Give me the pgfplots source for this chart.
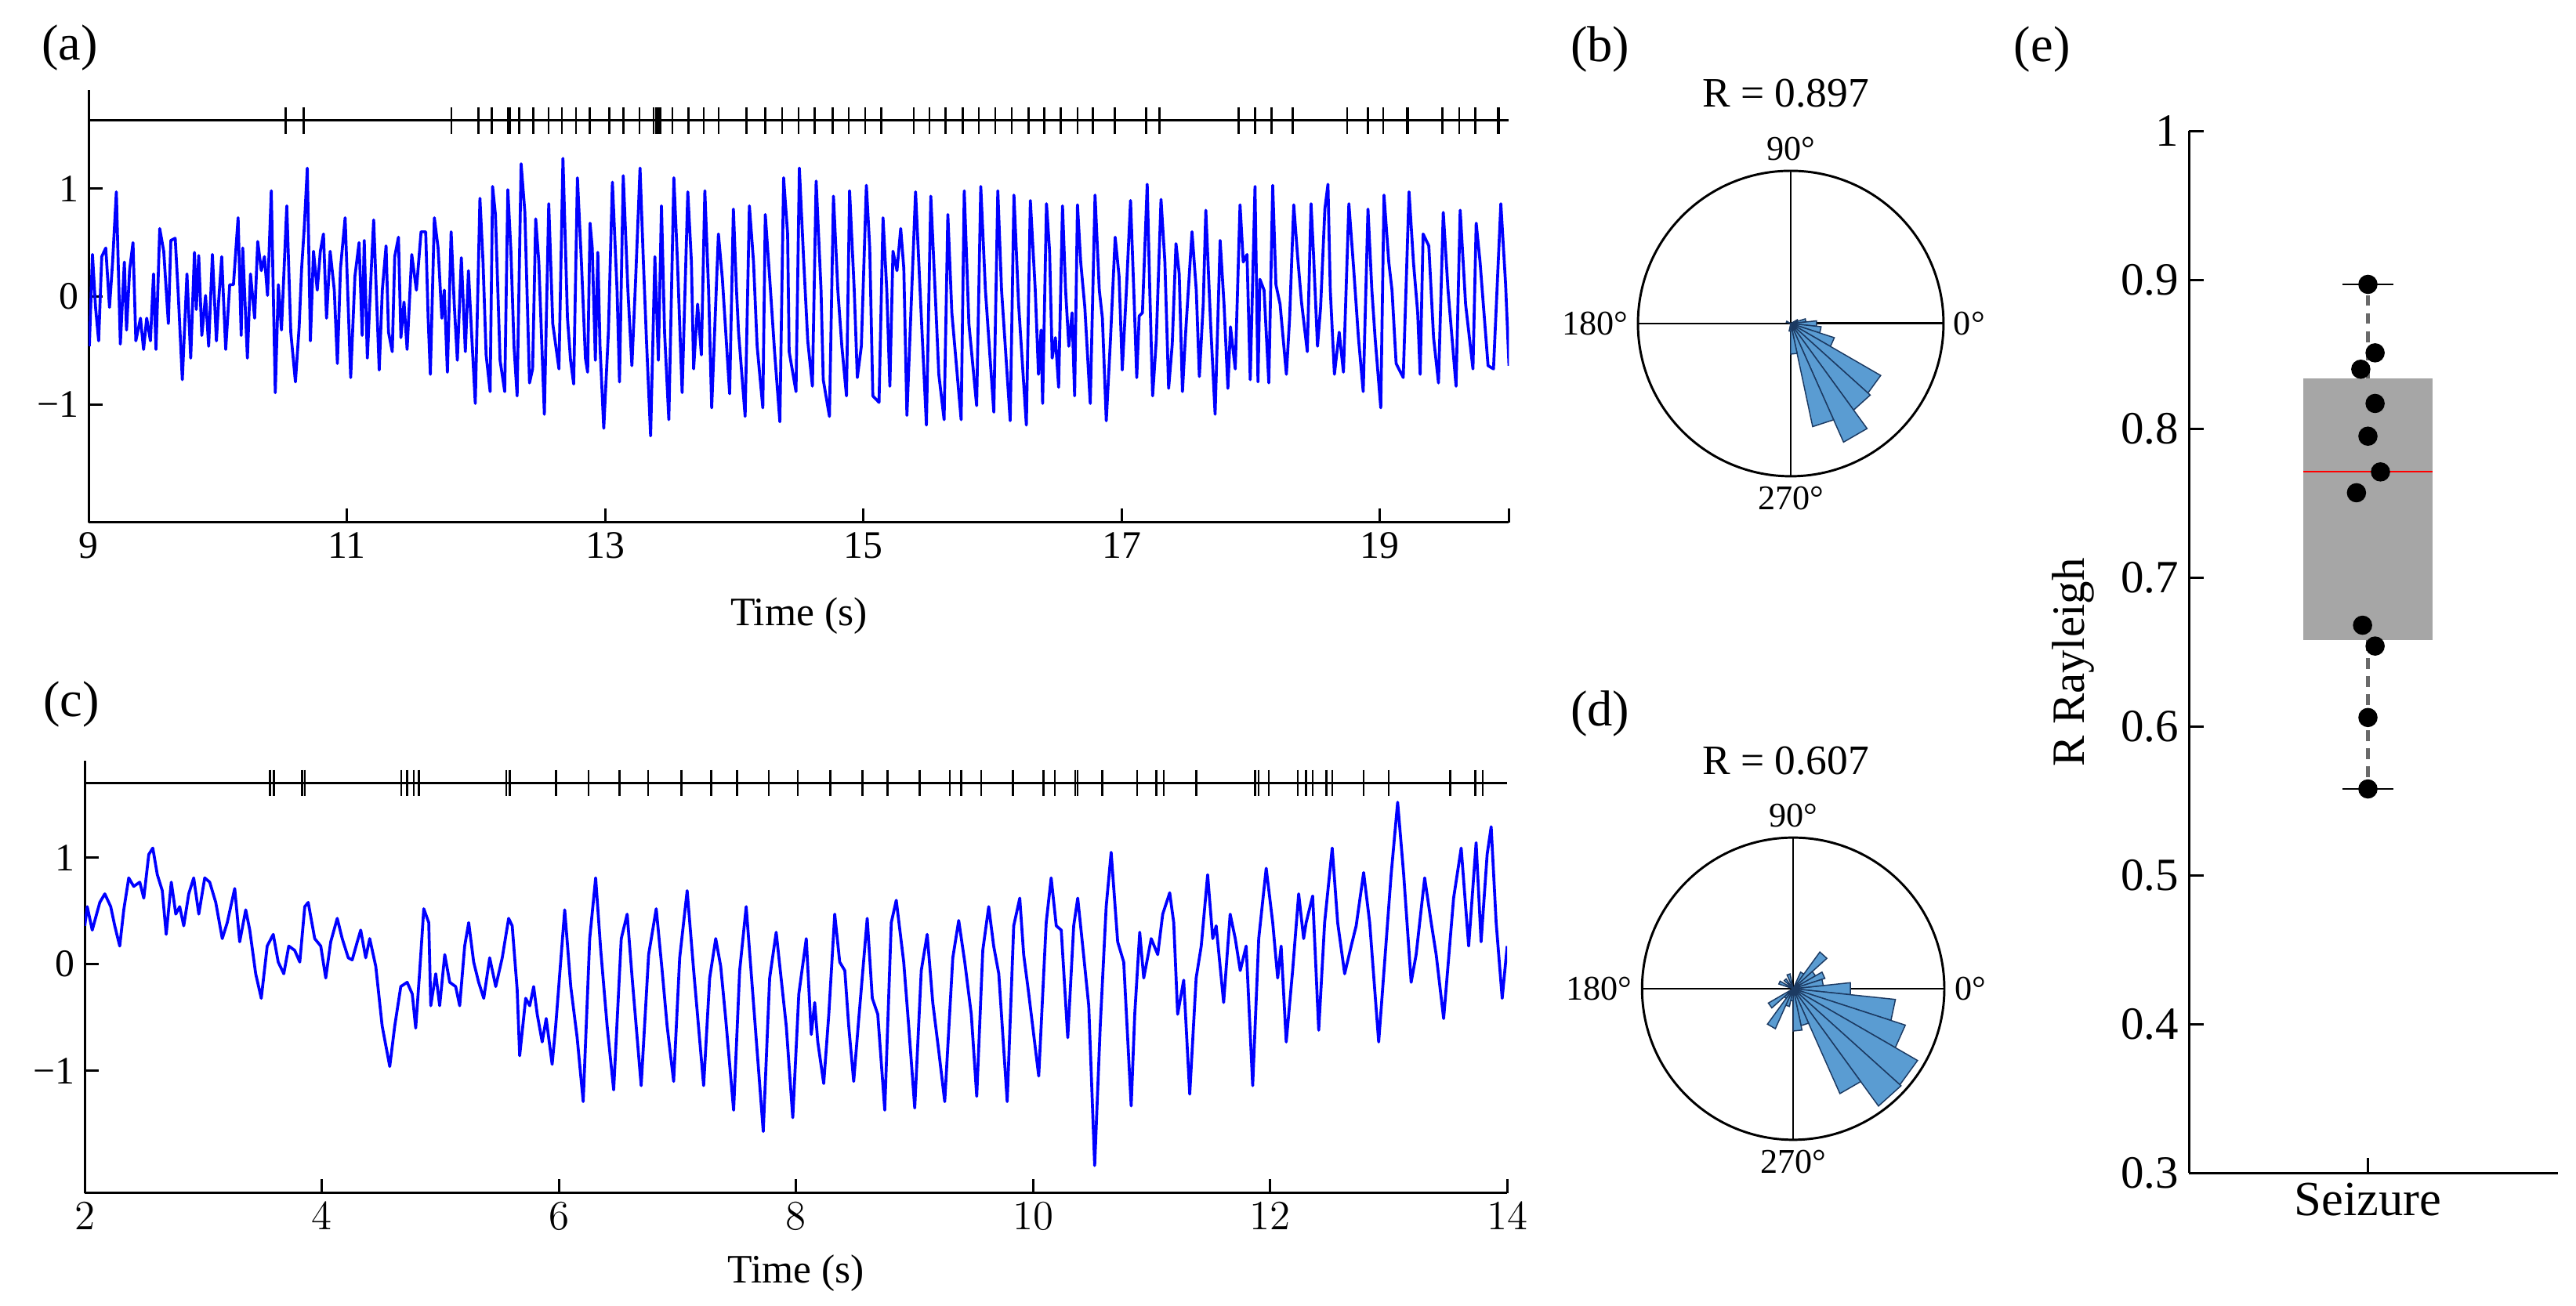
\documentclass[border=0pt]{standalone}
\usepackage{fontspec}
\setmainfont{Liberation Serif}
\usepackage{pgfplots}
\pgfplotsset{compat=1.18}
\usepgfplotslibrary{polar,statistics}

\definecolor{petalfill}{RGB}{90,156,210}
\definecolor{petaledge}{RGB}{28,58,98}
\definecolor{boxgray}{RGB}{166,166,166}
\definecolor{whiskgray}{RGB}{105,105,105}

\pgfplotsset{
  trace/.style={
    scale only axis, height=52.6mm,
    axis x line*=bottom, axis y line*=left,
    axis line style={line width=0.9pt},
    tick style={black, line width=0.8pt},
    major tick length=1.7mm,
    ytick={-1,0,1}, yticklabels={−1,0,1},
    tick label style={font=\fontsize{13.5}{16}\selectfont},
    xlabel={Time (s)},
    label style={font=\fontsize{14}{16}\selectfont},
  },
  rose/.style={
    scale only axis, anchor=center,
    ymin=0, ymax=1, ytick=\empty,
    xtick={0,90,180,270}, xticklabels={0°,90°,180°,270°},
    xmajorgrids, ymajorgrids=false, xminorgrids=false, yminorgrids=false,
    major grid style={black, line width=0.7pt},
    axis line style={line width=0.8pt},
    major tick length=0pt,
    tick label style={font=\fontsize{12}{14}\selectfont},
  },
  spikes/.style={only marks, mark=|, mark size=1.6mm, mark options={black, line width=0.7pt}},
  sig/.style={blue, line width=1pt, line join=round},
}
\newcommand\petal[3]{\addplot[fill=petalfill, draw=petaledge, line width=0.4pt] coordinates {(0,0) (#1,#3) (#2,#3) (0,0)};}

\begin{document}
\begin{tikzpicture}
\useasboundingbox (0,0) rectangle (313.6mm,159mm);

% (a) seizure trace
\begin{axis}[trace, at={(10.8mm,95.4mm)}, anchor=south west, width=172.9mm,
  xmin=9, xmax=20, ymin=-2.09, ymax=1.91,
  xtick={9,11,13,15,17,19,20}, xticklabels={9,11,13,15,17,19,{}},
  xlabel style={at={(axis description cs:0.5,0)}, anchor=center, yshift=-11.4mm}]
\addplot[sig] coordinates {
(9.005,-0.46) (9.029,0.39) (9.053,-0.10) (9.077,-0.41) (9.101,0.37) (9.132,0.45) (9.161,-0.10) (9.185,0.32) (9.214,0.97) (9.245,-0.44) (9.276,0.32) (9.293,-0.31) (9.317,0.25) (9.343,0.50) (9.365,-0.41) (9.401,-0.20) (9.425,-0.49) (9.449,-0.20) (9.478,-0.41) (9.502,0.21) (9.521,-0.49) (9.550,0.63) (9.581,0.42) (9.617,-0.25) (9.636,0.52) (9.670,0.54) (9.694,0.01) (9.725,-0.77) (9.761,0.21) (9.790,-0.57) (9.819,0.41) (9.833,-0.12) (9.852,0.38) (9.876,-0.36) (9.905,0.01) (9.929,-0.46) (9.958,0.39) (9.989,-0.41) (10.006,-0.05) (10.030,0.37) (10.061,-0.49) (10.092,0.11) (10.121,0.11) (10.157,0.73) (10.181,-0.36) (10.193,0.45) (10.229,-0.57) (10.253,0.21) (10.285,-0.20) (10.309,0.51) (10.337,0.24) (10.361,0.37) (10.385,0.01) (10.414,0.98) (10.445,-0.89) (10.469,0.11) (10.493,-0.31) (10.534,0.84) (10.565,-0.33) (10.601,-0.79) (10.630,-0.28) (10.649,0.26) (10.669,0.63) (10.693,1.19) (10.717,-0.41) (10.741,0.42) (10.770,0.06) (10.794,0.42) (10.818,0.58) (10.842,-0.20) (10.870,0.42) (10.902,0.06) (10.926,-0.62) (10.950,0.26) (10.986,0.73) (11.029,-0.75) (11.062,0.19) (11.094,0.50) (11.118,-0.36) (11.134,0.52) (11.158,-0.57) (11.190,0.29) (11.207,0.71) (11.250,-0.68) (11.274,0.06) (11.303,0.47) (11.322,-0.33) (11.351,-0.51) (11.370,0.37) (11.399,0.55) (11.418,-0.38) (11.442,-0.05) (11.466,-0.49) (11.502,0.39) (11.538,0.06) (11.574,0.60) (11.610,0.60) (11.629,-0.20) (11.646,-0.72) (11.677,0.73) (11.706,0.45) (11.735,-0.20) (11.754,0.06) (11.778,-0.70) (11.807,0.60) (11.831,-0.07) (11.855,-0.59) (11.886,0.36) (11.917,-0.51) (11.941,0.24) (11.965,-0.33) (11.994,-0.99) (12.030,0.91) (12.054,0.32) (12.078,-0.54) (12.109,-0.88) (12.128,1.02) (12.150,0.76) (12.186,-0.59) (12.222,-0.88) (12.246,0.99) (12.270,0.42) (12.294,-0.46) (12.318,-0.92) (12.349,1.23) (12.378,0.78) (12.414,-0.80) (12.438,-0.67) (12.462,0.72) (12.486,0.32) (12.529,-1.09) (12.563,0.86) (12.594,-0.25) (12.642,-0.67) (12.673,1.28)
(12.708,-0.20) (12.732,-0.59) (12.756,-0.81) (12.785,1.10) (12.816,0.32) (12.847,-0.57) (12.864,-0.70) (12.883,0.68) (12.900,0.45) (12.924,-0.59) (12.943,0.41) (12.960,-0.46) (12.989,-1.22) (13.025,-0.33) (13.056,1.06) (13.092,0.06) (13.111,-0.79) (13.140,1.12) (13.176,0.06) (13.207,-0.64) (13.236,0.16) (13.270,1.19) (13.296,0.32) (13.320,-0.41) (13.352,-1.29) (13.385,0.37) (13.412,-0.59) (13.436,0.84) (13.460,-0.33) (13.493,-1.14) (13.532,1.10) (13.560,0.32) (13.596,-0.89) (13.640,0.97) (13.668,0.32) (13.685,-0.67) (13.716,-0.07) (13.745,-0.54) (13.772,0.98) (13.801,0.06) (13.825,-1.03) (13.877,0.58) (13.908,0.16) (13.964,-0.90) (13.993,0.81) (14.017,0.06) (14.033,-0.33) (14.084,-1.11) (14.117,0.84) (14.149,0.32) (14.177,-0.46) (14.221,-1.03) (14.240,0.76) (14.273,0.19) (14.312,-0.51) (14.353,-1.16) (14.382,1.10) (14.413,0.58) (14.425,-0.51) (14.478,-0.88) (14.504,1.19) (14.538,0.32) (14.569,-0.41) (14.605,-0.83) (14.634,1.07) (14.672,0.06) (14.689,-0.77) (14.737,-1.11) (14.768,0.93) (14.802,0.06) (14.833,-0.46) (14.869,-0.92) (14.893,0.98) (14.929,0.06) (14.953,-0.75) (14.984,-0.46) (15.023,1.03) (15.049,0.45) (15.073,-0.92) (15.121,-0.98) (15.152,0.73) (15.181,0.06) (15.205,-0.83) (15.229,0.42) (15.260,0.24) (15.289,0.63) (15.313,0.26) (15.337,-1.10) (15.404,0.97) (15.445,-0.10) (15.488,-1.19) (15.522,0.93) (15.560,-0.07) (15.584,-0.72) (15.625,-1.14) (15.654,0.76) (15.685,-0.15) (15.757,-1.14) (15.781,0.98) (15.817,-0.25) (15.877,-1.01) (15.909,1.02) (15.945,0.06) (16.010,-1.07) (16.041,0.98) (16.070,0.06) (16.137,-1.15) (16.166,0.94) (16.202,-0.07) (16.262,-1.19) (16.293,0.89)
(16.331,0.06) (16.356,-0.72) (16.376,-0.31) (16.388,-0.99) (16.418,0.86) (16.442,0.42) (16.462,-0.57) (16.487,-0.38) (16.512,-0.84) (16.542,0.84) (16.566,0.06) (16.591,-0.46) (16.616,-0.15) (16.636,-0.92) (16.658,0.85) (16.683,0.32) (16.715,-0.10) (16.732,-0.46) (16.757,-0.99) (16.794,0.94) (16.827,0.06) (16.851,-0.20) (16.881,-1.15) (16.913,-0.41) (16.950,0.55) (16.980,0.19) (17.005,-0.68) (17.037,0.06) (17.069,0.89) (17.094,0.06) (17.117,-0.75) (17.136,-0.18) (17.161,-0.15) (17.198,1.04) (17.218,0.06) (17.240,-0.92) (17.268,-0.41) (17.305,0.90) (17.335,0.32) (17.364,-0.85) (17.392,-0.44) (17.421,0.49) (17.446,0.21) (17.471,-0.88) (17.496,-0.33) (17.545,0.60) (17.578,0.06) (17.602,-0.74) (17.632,-0.07) (17.652,0.80) (17.689,-0.25) (17.724,-1.09) (17.763,0.52) (17.793,-0.07) (17.823,-0.85) (17.843,-0.28) (17.880,-0.67) (17.917,0.85) (17.942,0.32) (17.971,0.39) (17.996,-0.77) (18.033,1.02) (18.056,-0.79) (18.071,0.16) (18.103,0.06) (18.140,-0.80) (18.170,1.03) (18.195,0.11) (18.227,-0.07) (18.276,-0.72) (18.301,-0.20) (18.333,0.85) (18.363,0.37) (18.393,-0.05) (18.438,-0.51) (18.467,0.86) (18.487,0.37) (18.517,-0.46) (18.541,-0.10) (18.574,0.81) (18.598,1.04) (18.616,0.06) (18.648,-0.72) (18.685,-0.33) (18.718,-0.70) (18.760,0.86) (18.797,0.26) (18.834,-0.38) (18.871,-0.88) (18.908,0.81) (18.938,0.06) (18.963,-0.38) (19.007,-1.03) (19.032,0.94) (19.069,0.32) (19.094,0.06) (19.126,-0.62) (19.181,-0.75) (19.226,0.97) (19.260,0.32) (19.293,-0.15) (19.312,-0.72) (19.335,0.58) (19.379,0.47) (19.416,-0.38) (19.454,-0.80) (19.491,0.78) (19.528,0.06) (19.590,-0.83) (19.622,0.80) (19.664,-0.07) (19.721,-0.67) (19.746,0.68) (19.776,0.32) (19.838,-0.64) (19.880,-0.67) (19.937,0.86) (19.974,0.11) (20.000,-0.64)
};
\addplot[black, line width=0.8pt] coordinates {(9,1.63) (20,1.63)};
\addplot[spikes] coordinates {
(10.525,1.63) (10.666,1.63) (11.809,1.63) (12.018,1.63) (12.121,1.63) (12.246,1.63) (12.263,1.63) (12.335,1.63) (12.445,1.63) (12.561,1.63) (12.665,1.63) (12.775,1.63) (12.881,1.63) (13.032,1.63) (13.140,1.63) (13.267,1.63) (13.376,1.63) (13.392,1.63) (13.409,1.63) (13.428,1.63) (13.520,1.63) (13.644,1.63) (13.764,1.63) (13.880,1.63) (14.096,1.63) (14.240,1.63) (14.370,1.63) (14.497,1.63) (14.622,1.63) (14.761,1.63) (14.886,1.63) (15.013,1.63) (15.140,1.63) (15.390,1.63) (15.512,1.63) (15.637,1.63) (15.769,1.63) (15.894,1.63) (16.021,1.63) (16.149,1.63) (16.278,1.63) (16.400,1.63) (16.529,1.63) (16.658,1.63) (16.777,1.63) (16.943,1.63) (16.950,1.63) (17.186,1.63) (17.193,1.63) (17.293,1.63) (17.905,1.63) (18.033,1.63) (18.160,1.63) (18.326,1.63) (18.747,1.63) (18.908,1.63) (19.025,1.63) (19.211,1.63) (19.218,1.63) (19.483,1.63) (19.615,1.63) (19.739,1.63) (19.912,1.63) (19.924,1.63)
};
\end{axis}

% (c) second trace
\begin{axis}[trace, at={(10.32mm,13.74mm)}, anchor=south west, width=173.16mm,
  xmin=2, xmax=14, ymin=-2.146, ymax=1.908,
  xtick={2,4,6,8,10,12,14},
  xlabel style={at={(axis description cs:0.5,0)}, anchor=center, yshift=-9.8mm}]
\addplot[sig] coordinates {
(2.000,0.36) (2.021,0.54) (2.063,0.32) (2.127,0.58) (2.169,0.66) (2.219,0.54) (2.253,0.36) (2.295,0.17) (2.329,0.51) (2.371,0.81) (2.413,0.73) (2.464,0.77) (2.498,0.62) (2.540,1.03) (2.574,1.09) (2.612,0.84) (2.654,0.69) (2.687,0.28) (2.730,0.77) (2.768,0.47) (2.801,0.54) (2.835,0.36) (2.877,0.66) (2.919,0.81) (2.962,0.47) (3.012,0.81) (3.054,0.77) (3.105,0.58) (3.160,0.24) (3.202,0.39) (3.265,0.71) (3.307,0.21) (3.358,0.51) (3.392,0.32) (3.442,-0.09) (3.489,-0.32) (3.539,0.17) (3.590,0.28) (3.632,0.02) (3.679,-0.09) (3.721,0.17) (3.771,0.13) (3.814,0.02) (3.856,0.54) (3.885,0.58) (3.940,0.24) (3.991,0.17) (4.033,-0.13) (4.075,0.21) (4.130,0.43) (4.172,0.24) (4.223,0.06) (4.256,0.04) (4.299,0.21) (4.328,0.32) (4.370,0.06) (4.404,0.24) (4.455,-0.02) (4.509,-0.58) (4.573,-0.96) (4.615,-0.58) (4.666,-0.21) (4.720,-0.17) (4.763,-0.28) (4.792,-0.60) (4.826,-0.06) (4.860,0.52) (4.902,0.39) (4.919,-0.39) (4.961,-0.09) (4.994,-0.39) (5.037,0.09) (5.079,-0.17) (5.129,-0.21) (5.163,-0.39) (5.205,0.17) (5.239,0.39) (5.281,0.02) (5.323,-0.17) (5.366,-0.32) (5.416,0.06) (5.467,-0.21) (5.522,0.06) (5.576,0.43) (5.606,0.36) (5.648,-0.24) (5.669,-0.86) (5.720,-0.32) (5.754,-0.39) (5.787,-0.21) (5.817,-0.47) (5.859,-0.73) (5.893,-0.51) (5.943,-0.94) (5.973,-0.58) (6.049,0.51) (6.100,-0.21) (6.154,-0.69) (6.205,-1.29) (6.260,0.24) (6.310,0.81) (6.353,0.13) (6.407,-0.58) (6.462,-1.18) (6.526,0.24) (6.576,0.47) (6.618,-0.13) (6.694,-1.14) (6.757,0.09) (6.821,0.52) (6.871,-0.06) (6.913,-0.58) (6.968,-1.10) (7.019,0.06) (7.082,0.69) (7.137,-0.06) (7.221,-1.14) (7.272,-0.13) (7.323,0.24) (7.365,-0.02) (7.407,-0.51) (7.474,-1.37) (7.525,-0.06) (7.580,0.54) (7.631,-0.21) (7.724,-1.57) (7.778,-0.13) (7.833,0.30)
(7.918,-0.58) (7.973,-1.44) (8.024,-0.28) (8.087,0.24) (8.129,-0.66) (8.158,-0.36) (8.184,-0.73) (8.234,-1.12) (8.277,-0.47) (8.327,0.47) (8.369,0.02) (8.412,-0.06) (8.445,-0.58) (8.487,-1.10) (8.530,-0.51) (8.601,0.43) (8.644,-0.32) (8.690,-0.47) (8.749,-1.37) (8.804,0.39) (8.846,0.60) (8.909,0.02) (8.951,-0.58) (9.002,-1.35) (9.057,-0.06) (9.107,0.28) (9.154,-0.36) (9.204,-0.81) (9.255,-1.29) (9.323,0.06) (9.373,0.41) (9.424,0.02) (9.479,-0.47) (9.525,-1.24) (9.576,0.13) (9.626,0.54) (9.668,0.17) (9.711,-0.09) (9.782,-1.29) (9.837,0.36) (9.888,0.62) (9.921,0.09) (9.964,-0.28) (10.048,-1.05) (10.111,0.39) (10.153,0.81) (10.196,0.36) (10.238,0.32) (10.293,-0.69) (10.343,0.36) (10.377,0.62) (10.419,0.17) (10.470,-0.39) (10.520,-1.89) (10.567,-0.58) (10.617,0.54) (10.659,1.05) (10.714,0.21) (10.765,0.02) (10.828,-1.33) (10.858,-0.47) (10.900,0.30) (10.934,-0.13) (10.997,0.24) (11.052,0.09) (11.094,0.47) (11.153,0.67) (11.187,0.39) (11.220,-0.47) (11.271,-0.15) (11.322,-1.22) (11.376,-0.13) (11.419,0.17) (11.473,0.84) (11.516,0.24) (11.545,0.36) (11.608,-0.36) (11.663,0.47) (11.706,0.24) (11.748,-0.06) (11.798,0.17) (11.853,-1.14) (11.904,0.24) (11.967,0.90) (12.022,0.39) (12.064,-0.13) (12.093,0.17) (12.136,-0.73) (12.190,-0.06) (12.241,0.66) (12.283,0.24) (12.304,0.39) (12.359,0.64) (12.410,-0.62) (12.460,0.39) (12.524,1.09) (12.570,0.39) (12.629,-0.09) (12.684,0.17) (12.726,0.36) (12.789,0.86) (12.840,0.39) (12.916,-0.73) (12.979,0.21) (13.021,0.84) (13.076,1.52) (13.127,0.84) (13.190,-0.17) (13.232,0.09) (13.304,0.81) (13.359,0.39) (13.401,0.09) (13.464,-0.51) (13.548,0.62) (13.612,1.09) (13.675,0.17) (13.738,1.14) (13.780,0.21) (13.831,1.03) (13.865,1.29) (13.907,0.39) (13.958,-0.32) (14.000,0.17)
};
\addplot[black, line width=0.8pt] coordinates {(2,1.70) (14,1.70)};
\addplot[spikes] coordinates {
(3.561,1.70) (3.594,1.70) (3.835,1.70) (3.856,1.70) (4.670,1.70) (4.720,1.70) (4.775,1.70) (4.817,1.70) (5.556,1.70) (5.585,1.70) (5.977,1.70) (6.251,1.70) (6.513,1.70) (6.753,1.70) (7.032,1.70) (7.285,1.70) (7.504,1.70) (7.770,1.70) (8.015,1.70) (8.289,1.70) (8.559,1.70) (8.774,1.70) (9.044,1.70) (9.297,1.70) (9.394,1.70) (9.563,1.70) (9.829,1.70) (10.090,1.70) (10.183,1.70) (10.356,1.70) (10.377,1.70) (10.584,1.70) (10.879,1.70) (11.039,1.70) (11.102,1.70) (11.377,1.70) (11.874,1.70) (11.904,1.70) (11.988,1.70) (12.233,1.70) (12.304,1.70) (12.359,1.70) (12.473,1.70) (12.524,1.70) (12.789,1.70) (13.000,1.70) (13.519,1.70) (13.730,1.70) (13.793,1.70)
};
\end{axis}

% (b) phase rose, seizure example
\begin{polaraxis}[rose, at={(218.0mm,119.6mm)}, width=37.2mm, height=37.2mm]
\petal{18}{30}{0.05}
\petal{6}{18}{0.10}
\petal{354}{6}{0.17}
\petal{342}{354}{0.20}
\petal{330}{342}{0.30}
\petal{318}{330}{0.68}
\petal{306}{318}{0.70}
\petal{294}{306}{0.85}
\petal{282}{294}{0.69}
\petal{270}{282}{0.20}
\petal{258}{270}{0.05}
\petal{150}{162}{0.03}
\end{polaraxis}

% (d) phase rose, second example
\begin{polaraxis}[rose, at={(218.3mm,38.6mm)}, width=36.8mm, height=36.8mm]
\petal{354}{6}{0.38}
\petal{342}{354}{0.68}
\petal{330}{342}{0.78}
\petal{318}{330}{0.95}
\petal{306}{318}{0.96}
\petal{294}{306}{0.76}
\petal{282}{294}{0.25}
\petal{270}{282}{0.28}
\petal{258}{270}{0.08}
\petal{246}{258}{0.12}
\petal{234}{246}{0.29}
\petal{222}{234}{0.08}
\petal{210}{222}{0.19}
\petal{150}{162}{0.10}
\petal{126}{138}{0.08}
\petal{102}{114}{0.10}
\petal{54}{66}{0.12}
\petal{42}{54}{0.30}
\petal{30}{42}{0.17}
\petal{18}{30}{0.22}
\petal{6}{18}{0.20}
\end{polaraxis}

% (e) box plot of R
\begin{axis}[at={(266.48mm,16.16mm)}, anchor=south west, scale only axis,
  width=44.88mm, height=126.88mm,
  xmin=0.5, xmax=1.53, ymin=0.3, ymax=1,
  axis x line*=bottom, axis y line*=left,
  axis line style={line width=0.9pt},
  tick style={black, line width=0.8pt},
  major tick length=1.8mm,
  xtick={1}, xticklabels={Seizure},
  ytick={0.3,0.4,0.5,0.6,0.7,0.8,0.9,1},
  yticklabels={0.3,0.4,0.5,0.6,0.7,0.8,0.9,1},
  yticklabel style={font=\fontsize{16}{18}\selectfont},
  xticklabel style={font=\fontsize{17}{19}\selectfont},
  ylabel={R Rayleigh},
  ylabel style={font=\fontsize{16}{18}\selectfont, at={(axis description cs:-0.314,0.49)}, anchor=center}]
\addplot[boxplot/draw direction=y,
  boxplot prepared={draw position=1, lower whisker=0.558, lower quartile=0.658,
    median=0.771, upper quartile=0.834, upper whisker=0.897, box extend=0.36, whisker extend=0},
  boxplot/every box/.style={fill=boxgray, draw=none},
  boxplot/every median/.style={draw=red, line width=0.6pt},
  boxplot/every whisker/.style={draw=whiskgray, line width=1.6pt, dash pattern=on 1.3mm off 0.9mm}]
  coordinates {};
\addplot[black, line width=0.6pt] coordinates {(0.929,0.897) (1.072,0.897)};
\addplot[black, line width=0.6pt] coordinates {(0.929,0.558) (1.072,0.558)};
\addplot[only marks, mark=*, mark size=1.1mm, black] coordinates {
(1.00,0.897) (1.02,0.851) (0.98,0.840) (1.02,0.817) (1.00,0.795) (1.035,0.771) (0.968,0.757) (0.985,0.668) (1.02,0.654) (1.00,0.606) (1.00,0.558)
};
\end{axis}

% panel letters and titles
\node[font=\fontsize{17.5}{20}\selectfont] at (8.52mm,153.2mm) {(a)};
\node[font=\fontsize{17.5}{20}\selectfont] at (194.8mm,153mm) {(b)};
\node[font=\fontsize{17.5}{20}\selectfont] at (8.68mm,73.2mm) {(c)};
\node[font=\fontsize{17.5}{20}\selectfont] at (194.8mm,72.1mm) {(d)};
\node[font=\fontsize{17.5}{20}\selectfont] at (248.6mm,153mm) {(e)};
\node[font=\fontsize{14.5}{17}\selectfont, anchor=base] at (217.4mm,146mm) {R = 0.897};
\node[font=\fontsize{14.5}{17}\selectfont, anchor=base] at (217.4mm,64.66mm) {R = 0.607};
\end{tikzpicture}
\end{document}
